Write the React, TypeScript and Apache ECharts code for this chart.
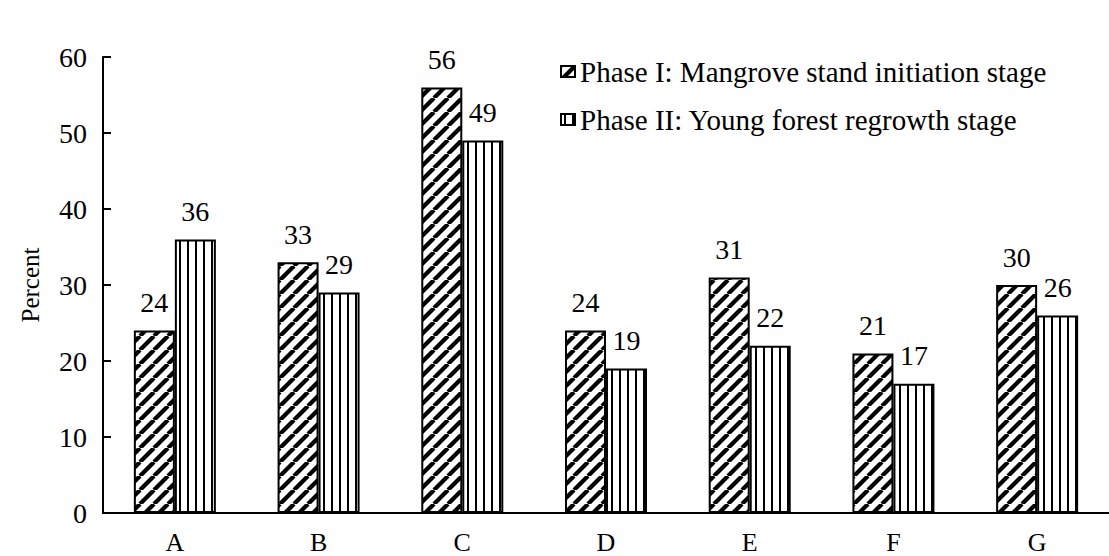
import React, { useEffect, useRef } from "react";
import * as echarts from "echarts";

const categories = ["A", "B", "C", "D", "E", "F", "G"];
const phase1 = [24, 33, 56, 24, 31, 21, 30];
const phase2 = [36, 29, 49, 19, 22, 17, 26];
const seriesNames = [
  "Phase I: Mangrove stand initiation stage",
  "Phase II: Young forest regrowth stage",
];
const yTicks = { min: 0, max: 60, interval: 10 };

const FONT = '"Liberation Serif", "Times New Roman", serif';

function makeHatch() {
  const P = 14;
  const c = document.createElement("canvas");
  c.width = P;
  c.height = P;
  const ctx = c.getContext("2d")!;
  ctx.fillStyle = "#fff";
  ctx.fillRect(0, 0, P, P);
  ctx.strokeStyle = "#000";
  ctx.lineWidth = 4.2;
  for (let k = -1; k <= 1; k++) {
    ctx.beginPath();
    ctx.moveTo(k * P, P);
    ctx.lineTo(k * P + P, 0);
    ctx.stroke();
  }
  return { image: c, repeat: "repeat", imageWidth: P, imageHeight: P };
}

function makeVertical() {
  const W = 8;
  const H = 8;
  const c = document.createElement("canvas");
  c.width = W;
  c.height = H;
  const ctx = c.getContext("2d")!;
  ctx.fillStyle = "#fff";
  ctx.fillRect(0, 0, W, H);
  ctx.fillStyle = "#000";
  ctx.fillRect(3, 0, 2, H);
  return { image: c, repeat: "repeat", imageWidth: W, imageHeight: H };
}

export default function App() {
  const ref = useRef<HTMLDivElement>(null);
  useEffect(() => {
    if (!ref.current) return;
    const chart = echarts.init(ref.current, null, { renderer: "svg" });
    const hatch = makeHatch();
    const vert = makeVertical();
    const labelStyle = {
      show: true,
      position: "top",
      distance: 14,
      fontFamily: FONT,
      fontSize: 28,
      color: "#000",
    };
    chart.setOption({
      animation: false,
      backgroundColor: "#fff",
      textStyle: { fontFamily: FONT },
      grid: { left: 103, top: 57, width: 1010, height: 456 },
      legend: {
        orient: "vertical",
        left: 555,
        top: 52,
        itemWidth: 14,
        itemHeight: 11,
        itemGap: 19,
        selectedMode: false,
        icon: "rect",
        textStyle: { fontFamily: FONT, fontSize: 29, color: "#000" },
        data: seriesNames,
      },
      xAxis: {
        type: "category",
        data: categories,
        axisLine: { show: true, lineStyle: { color: "#000", width: 2 } },
        axisTick: { show: false },
        axisLabel: { fontFamily: FONT, fontSize: 26, color: "#000", margin: 16 },
        splitLine: { show: false },
      },
      yAxis: {
        type: "value",
        min: yTicks.min,
        max: yTicks.max,
        interval: yTicks.interval,
        name: "Percent",
        nameLocation: "middle",
        nameGap: 60,
        nameTextStyle: { fontFamily: FONT, fontSize: 25, color: "#000" },
        axisLine: { show: true, lineStyle: { color: "#000", width: 2 } },
        axisTick: { show: true, inside: true, length: 8, lineStyle: { color: "#000", width: 2 } },
        axisLabel: { fontFamily: FONT, fontSize: 28, color: "#000", margin: 16 },
        splitLine: { show: false },
      },
      series: [
        {
          name: seriesNames[0],
          type: "bar",
          data: phase1,
          barWidth: 41,
          barGap: "0%",
          itemStyle: { color: hatch, borderColor: "#000", borderWidth: 2 },
          label: labelStyle,
        },
        {
          name: seriesNames[1],
          type: "bar",
          data: phase2,
          barWidth: 41,
          barGap: "0%",
          itemStyle: { color: vert, borderColor: "#000", borderWidth: 2 },
          label: labelStyle,
        },
      ],
    });
    return () => chart.dispose();
  }, []);
  return (
    <div
      ref={ref}
      style={{ position: "fixed", left: 0, top: 0, width: 1109, height: 556 }}
    />
  );
}
